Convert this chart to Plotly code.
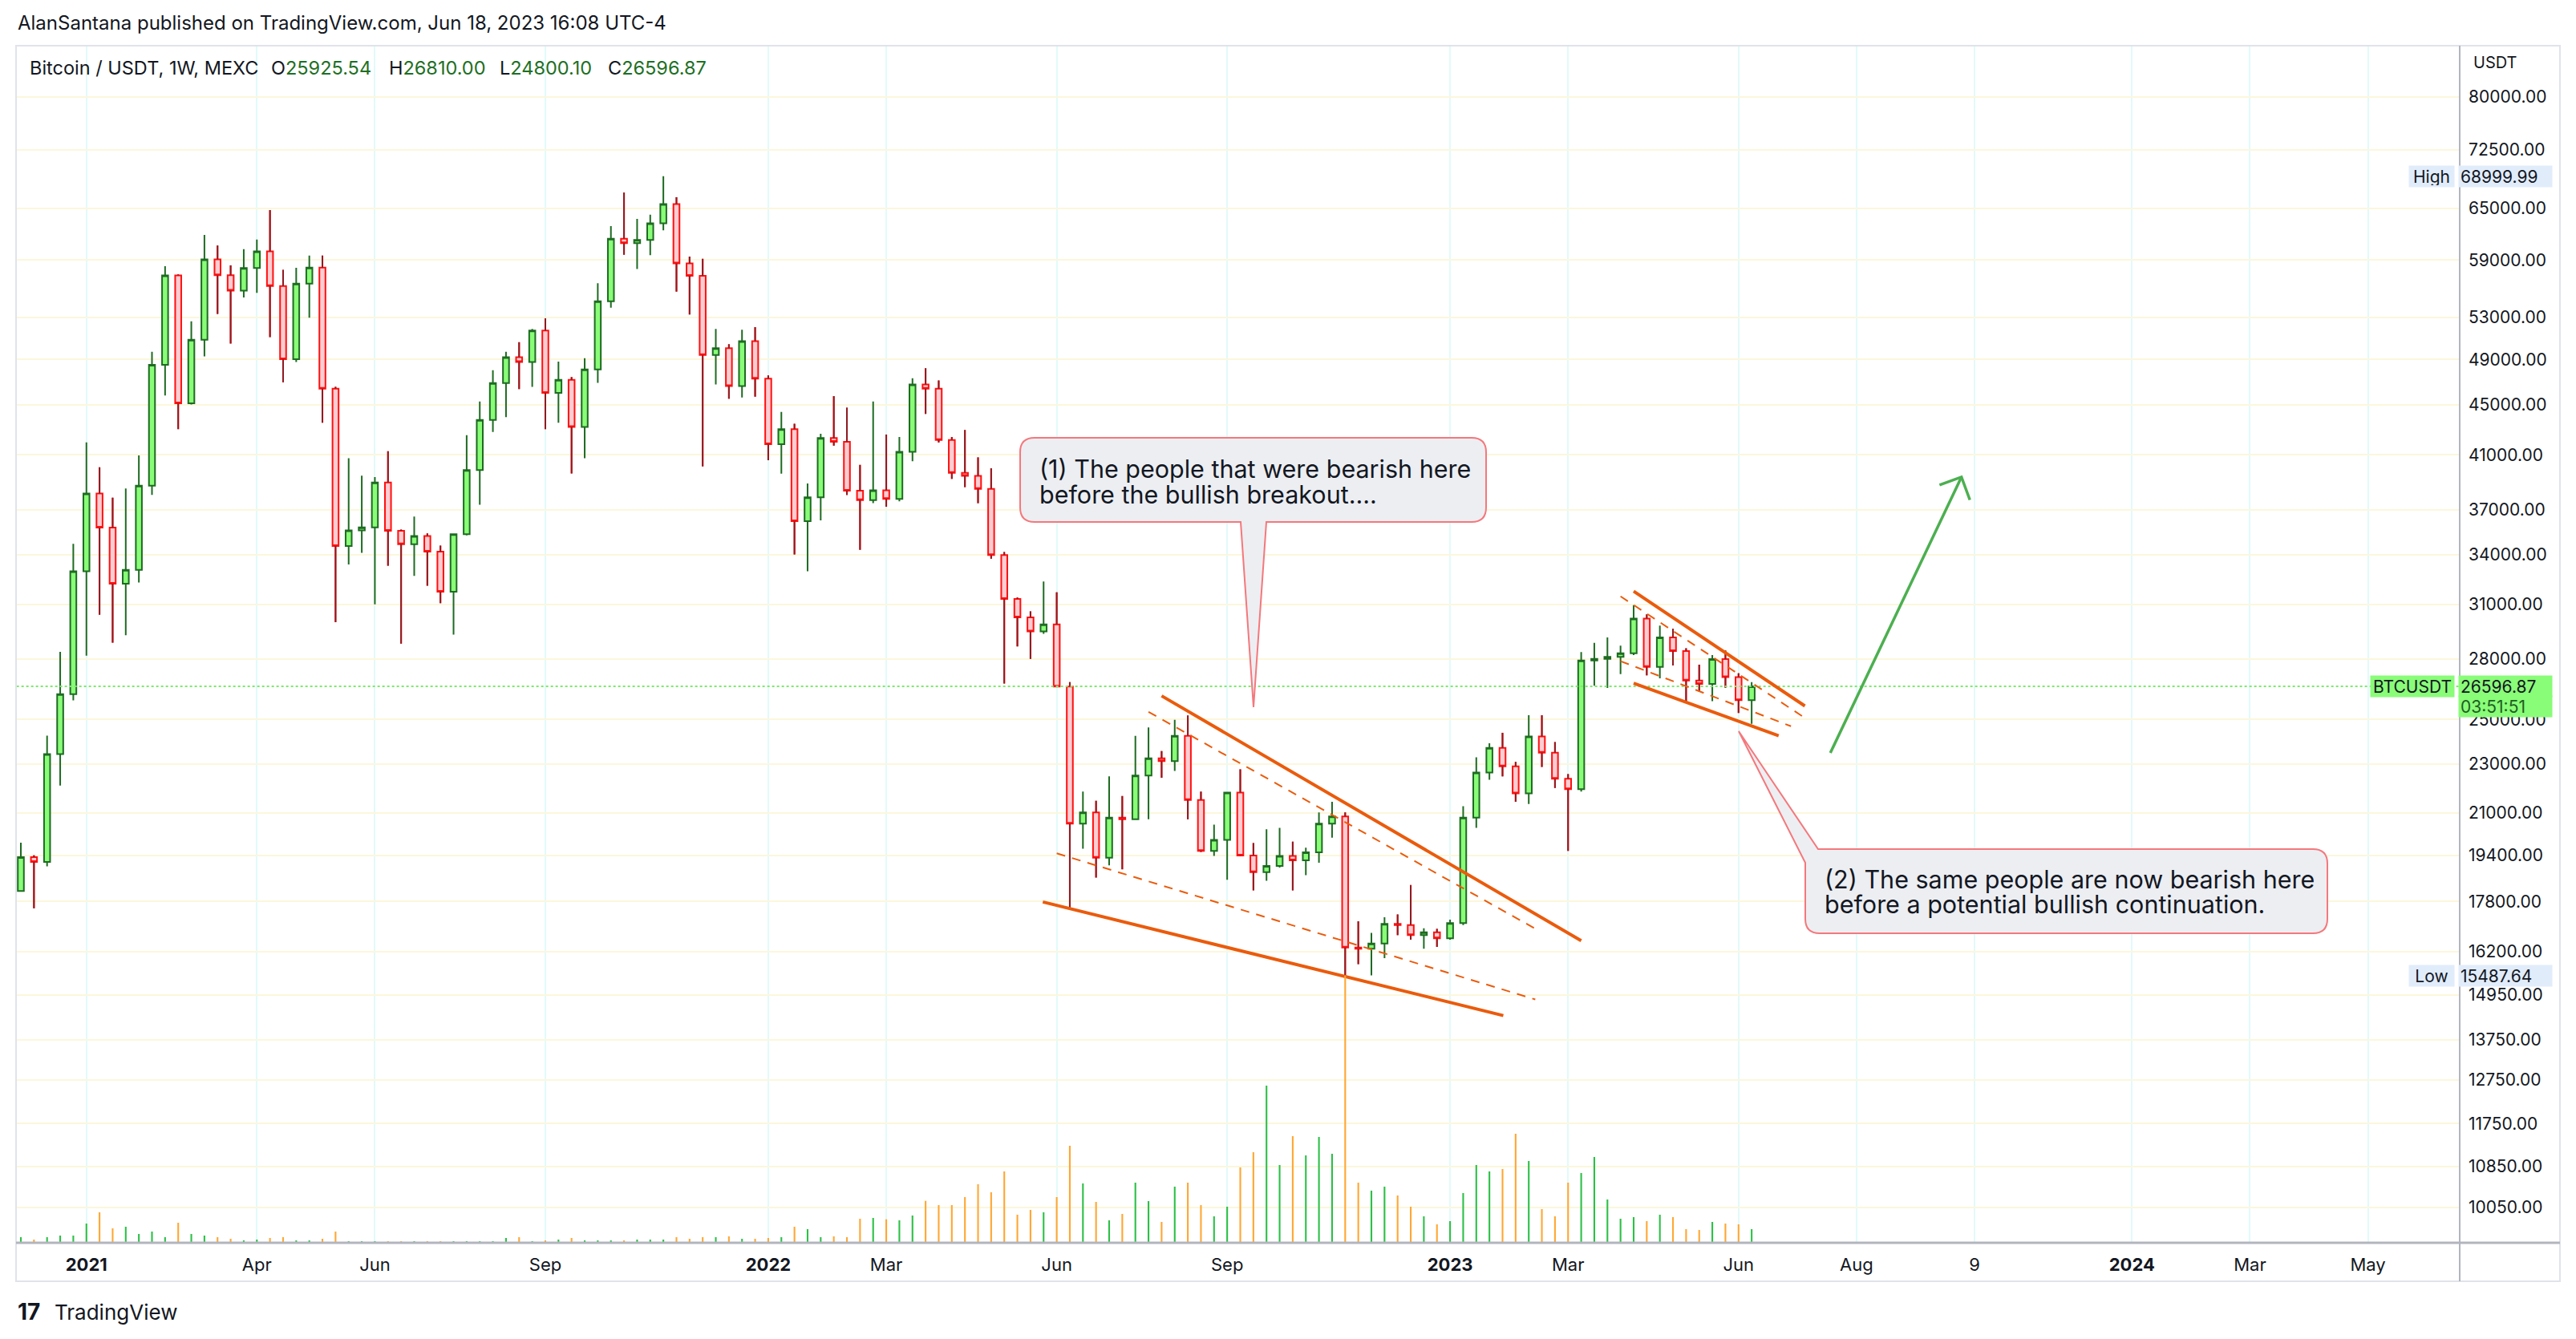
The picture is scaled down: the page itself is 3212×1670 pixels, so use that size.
import math
import pandas as pd
import plotly.graph_objects as go

# ---------------- data ----------------
first_week = "2020-11-30"

opens = [18150, 19330, 19160, 23440, 26210, 32980, 38130, 35780, 32220, 33060,
         38690, 48500, 57320, 45130, 50820, 59070, 57330, 55710, 58110, 59940,
         56190, 49010, 56440, 58150, 46390, 34570, 35600, 35800, 38930, 35570,
         34690, 35230, 34210, 31740, 35350, 39840, 43750, 46870, 49190, 48760,
         51700, 46030, 47150, 43190, 48090, 54620, 61390, 60870, 61240, 63170,
         65490, 58610, 57270, 49390, 50030, 46620, 50690, 47260, 41820, 43000,
         36210, 37870, 42300, 42010, 38340, 37670, 38360, 37750, 41230, 46750,
         46380, 42150, 39640, 39410, 38470, 33990, 31320, 30260, 29470, 29860,
         26590, 20580, 21020, 19310, 20810, 20750, 22520, 23250, 23130, 24250,
         21510, 19560, 19970, 21810, 19390, 18800, 19020, 19380, 19220, 19510,
         20580, 20860, 16330, 16290, 16450, 17070, 17030, 16710, 16800, 16610,
         17090, 20810, 22640, 23710, 22910, 21780, 24220, 23500, 22380, 21950,
         27920, 28000, 28100, 28300, 30190, 27580, 29150, 28410, 26890, 26720,
         27990, 27060, 25925.54]

highs = [19860, 19400, 24260, 28370, 34720, 41950, 40050, 37840, 38500, 40950,
         49690, 58310, 57430, 52600, 61820, 60610, 58410, 60190, 61300, 64760,
         57910, 58140, 59480, 59480, 46550, 40740, 39430, 39330, 41270, 35650,
         36530, 35400, 34600, 35400, 42530, 45290, 48010, 49690, 50590, 51870,
         52910, 48800, 47400, 49100, 56490, 62840, 66910, 63710, 64210, 68999.99,
         66340, 59370, 59120, 51870, 50400, 51790, 52040, 47550, 44410, 43440,
         38850, 42630, 45740, 44770, 40230, 45280, 42580, 42380, 47300, 48190,
         47100, 42380, 42940, 40800, 39980, 34190, 31400, 30600, 32350, 31710,
         26810, 21850, 21480, 22480, 21670, 24250, 24630, 23570, 24990, 25190,
         21850, 20540, 21810, 22780, 19850, 20370, 20420, 19900, 19680, 21020,
         21440, 21020, 17150, 16780, 17280, 17370, 18350, 16930, 16910, 17200,
         21260, 23300, 23920, 24390, 23100, 25200, 25200, 23970, 22580, 28360,
         28850, 29150, 28700, 30960, 30430, 29800, 29620, 28560, 27700, 28200,
         28440, 27260, 26810.00]

lows = [18130, 17570, 19000, 22100, 25910, 28170, 30410, 28860, 29260, 32290,
        38030, 45800, 43010, 45030, 49270, 53330, 50470, 55000, 55470, 51080,
        46950, 48760, 52960, 43530, 29990, 33400, 34130, 31000, 33320, 28810,
        32690, 32100, 31070, 29300, 35260, 37350, 42780, 43990, 46350, 46550,
        43010, 43530, 39590, 40740, 46900, 53970, 59580, 58010, 59530, 62350,
        55610, 53280, 40120, 46750, 45520, 45630, 45700, 40580, 39580, 34030,
        32980, 36270, 41700, 38030, 34330, 37450, 37200, 37580, 40500, 44250,
        41950, 39190, 38590, 37450, 33760, 26740, 28660, 28000, 29340, 26560,
        17590, 19640, 18610, 19040, 18900, 20750, 20750, 22420, 22710, 20750,
        19520, 19380, 18530, 19370, 18170, 18500, 18960, 18170, 18690, 19130,
        20050, 15487.64, 15830, 15500, 16010, 16710, 16570, 16290, 16350, 16570,
        17030, 20420, 22340, 22480, 21440, 21350, 22880, 22000, 19560, 21850,
        26630, 26520, 27210, 28200, 27150, 27000, 27660, 25780, 26350, 25870,
        26530, 25310, 24800.10]

closes = [19330, 19160, 23440, 26210, 32980, 38130, 35780, 32220, 33060, 38690,
          48500, 57320, 45130, 50820, 59070, 57330, 55710, 58110, 59940, 56190,
          49010, 56440, 58150, 46390, 34570, 35600, 35800, 38930, 35570, 34690,
          35230, 34210, 31740, 35350, 39840, 43750, 46870, 49190, 48760, 51700,
          46030, 47150, 43190, 48090, 54620, 61390, 60870, 61240, 63170, 65490,
          58610, 57270, 49390, 50030, 46620, 50690, 47260, 41820, 43000, 36210,
          37870, 42300, 42010, 38340, 37670, 38360, 37750, 41230, 46750, 46380,
          42150, 39640, 39410, 38470, 33990, 31320, 30260, 29470, 29860, 26590,
          20580, 21020, 19310, 20810, 20750, 22520, 23250, 23130, 24250, 21510,
          19560, 19970, 21810, 19390, 18800, 19020, 19380, 19220, 19510, 20580,
          20860, 16330, 16290, 16450, 17070, 17030, 16710, 16800, 16610, 17090,
          20810, 22640, 23710, 22910, 21780, 24220, 23500, 22380, 21950, 27920,
          28000, 28100, 28300, 30190, 27580, 29150, 28410, 26890, 26720, 27990,
          27060, 25925.54, 26596.87]

volumes = [21, 12, 21, 27, 27, 72, 114, 54, 60, 33,
           42, 21, 75, 33, 27, 21, 15, 9, 12, 18,
           21, 9, 9, 15, 42, 6, 6, 6, 6, 6,
           6, 6, 6, 6, 6, 6, 6, 18, 21, 6,
           9, 12, 18, 9, 9, 9, 9, 12, 12, 12,
           21, 15, 21, 21, 24, 15, 15, 18, 21, 60,
           51, 21, 24, 21, 90, 93, 88, 84, 102, 157,
           141, 141, 171, 219, 189, 267, 105, 123, 114, 171,
           363, 222, 153, 84, 108, 225, 156, 78, 210, 225,
           141, 99, 135, 282, 339, 588, 291, 399, 327, 396,
           333, 1000, 225, 195, 210, 177, 135, 99, 69, 81,
           186, 291, 267, 276, 408, 306, 126, 99, 225, 261,
           321, 162, 90, 96, 81, 105, 96, 51, 48, 78,
           72, 69, 51]

weeks = pd.date_range(first_week, periods=len(closes), freq="7D")

x_tick_dates = ["2021-01-04", "2021-04-05", "2021-06-07", "2021-09-06",
                "2022-01-03", "2022-03-07", "2022-06-06", "2022-09-05",
                "2023-01-02", "2023-03-06", "2023-06-05", "2023-08-07",
                "2023-10-09", "2024-01-01", "2024-03-04", "2024-05-06"]
x_tick_labels = ["<b>2021</b>", "Apr", "Jun", "Sep", "<b>2022</b>", "Mar", "Jun", "Sep",
                 "<b>2023</b>", "Mar", "Jun", "Aug", "9", "<b>2024</b>", "Mar", "May"]

price_ticks = [80000, 72500, 65000, 59000, 53000, 49000, 45000, 41000, 37000, 34000,
               31000, 28000, 25000, 23000, 21000, 19400, 17800, 16200, 14950, 13750,
               12750, 11750, 10850, 10050]
price_tick_labels = [f"{v:.2f}" for v in price_ticks]

last_price = 26596.87
all_high = 68999.99
all_low = 15487.64

# drawn trend lines (date, price)
wedge1_upper = (["2022-08-01", "2023-03-13"], [26130, 16540])
wedge1_upper_dash = (["2022-07-25", "2023-02-19"], [25360, 16830])
wedge1_lower_dash = (["2022-06-06", "2023-02-16 12:00"], [19470, 14820])
wedge1_lower = (["2022-05-29 14:00", "2023-01-30 10:00"], [17780, 14380])
wedge2_upper = (["2023-04-10", "2023-07-10 10:00"], [31770, 25640])
wedge2_upper_dash = (["2023-04-03", "2023-07-10"], [31470, 25100])
wedge2_lower_dash = (["2023-04-03", "2023-07-03"], [27880, 24690])
wedge2_lower = (["2023-04-10", "2023-06-26 10:00"], [26750, 24250])
arrow_shaft = (["2023-07-24", "2023-10-02"], [23490, 39330])
arrow_head = (["2023-09-20 07:00", "2023-10-02", "2023-10-06 12:00"], [38750, 39330, 37680])

callout1_lines = ["(1) The people that were bearish here", "before the bullish breakout...."]
callout2_lines = ["(2) The same people are now bearish here", "before a potential bullish continuation."]

# ---------------- style / layout ----------------
# page positions (the page body adds an 8px margin, compensated below)
OFF = 8
W, H = 3212 - 2 * OFF, 1670 - 2 * OFF
PL, PR, PT, PB = 20, 3067, 58, 1550
FONT = "Inter"
TXT = "#131722"
UP_FILL, UP_LINE = "#89FC78", "#1E6B22"
DN_FILL, DN_LINE, DN_WICK = "#FFCDD2", "#FF1010", "#8E1B22"
VOL_UP, VOL_DN = "#2CC047", "#FFA733"
TREND = "#EA5B0C"
ARROW = "#4CAF50"
GRID_H = "#FCF7DC"
GRID_V = "#E2FAFA"


def pxx(px):
    return (px - PL) / (PR - PL)


def pxy(py):
    return (PB - py) / (PB - PT)


y_lo = math.log10(9406)
y_hi = math.log10(87903)

fig = go.Figure()

# volume
fig.add_trace(go.Bar(
    x=weeks, y=volumes, yaxis="y2",
    marker=dict(color=[VOL_UP if c >= o else VOL_DN for o, c in zip(opens, closes)], line=dict(width=0)),
    width=0.9 * 86400000, showlegend=False, hoverinfo="skip"))

# candles
fig.add_trace(go.Candlestick(
    x=weeks, open=opens, high=highs, low=lows, close=closes,
    increasing=dict(line=dict(color=UP_LINE, width=2), fillcolor=UP_FILL),
    decreasing=dict(line=dict(color=DN_LINE, width=2), fillcolor=DN_FILL),
    whiskerwidth=0, showlegend=False))

# darker wicks for down candles
wx, wy = [], []
for d, o, h, l, c in zip(weeks, opens, highs, lows, closes):
    if c < o:
        wx += [d, d, None, d, d, None]
        wy += [h, o, None, c, l, None]
fig.add_trace(go.Scatter(x=wx, y=wy, mode="lines", line=dict(color=DN_WICK, width=2),
                         showlegend=False, hoverinfo="skip"))

# current price dotted line
fig.add_trace(go.Scatter(x=["2020-11-20", "2024-07-01"], y=[last_price, last_price], mode="lines",
                         line=dict(color="#7EEA6E", width=2, dash="dot"), showlegend=False, hoverinfo="skip"))

for seg, dash, wdt in [(wedge1_upper, "solid", 4), (wedge1_lower, "solid", 4),
                       (wedge1_upper_dash, "11px,9px", 2), (wedge1_lower_dash, "11px,9px", 2),
                       (wedge2_upper, "solid", 4), (wedge2_lower, "solid", 4),
                       (wedge2_upper_dash, "11px,9px", 2), (wedge2_lower_dash, "11px,9px", 2)]:
    fig.add_trace(go.Scatter(x=seg[0], y=seg[1], mode="lines",
                             line=dict(color=TREND, width=wdt, dash=dash),
                             showlegend=False, hoverinfo="skip"))

for seg in [arrow_shaft, arrow_head]:
    fig.add_trace(go.Scatter(x=seg[0], y=seg[1], mode="lines",
                             line=dict(color=ARROW, width=3.5), showlegend=False, hoverinfo="skip"))

shapes = []

callout1_box = (1272, 546, 1853, 651)
callout1_tail = (1547, 1579, 1563, 882)
callout2_box = (2251, 1059, 2902, 1164)
callout2_tail = (2267, 1076, 2168, 912)


def rr_path(L, T, R, B, r, tail):
    X, Y = pxx, pxy
    if tail == "bottom":
        bl, br, tx, ty = callout1_tail
        return (f"M{X(L + r)},{Y(T)} L{X(R - r)},{Y(T)} Q{X(R)},{Y(T)} {X(R)},{Y(T + r)} "
                f"L{X(R)},{Y(B - r)} Q{X(R)},{Y(B)} {X(R - r)},{Y(B)} "
                f"L{X(br)},{Y(B)} L{X(tx)},{Y(ty)} L{X(bl)},{Y(B)} "
                f"L{X(L + r)},{Y(B)} Q{X(L)},{Y(B)} {X(L)},{Y(B - r)} "
                f"L{X(L)},{Y(T + r)} Q{X(L)},{Y(T)} {X(L + r)},{Y(T)} Z")
    topx, lefty, tx, ty = callout2_tail
    return (f"M{X(topx)},{Y(T)} L{X(R - r)},{Y(T)} Q{X(R)},{Y(T)} {X(R)},{Y(T + r)} "
            f"L{X(R)},{Y(B - r)} Q{X(R)},{Y(B)} {X(R - r)},{Y(B)} "
            f"L{X(L + r)},{Y(B)} Q{X(L)},{Y(B)} {X(L)},{Y(B - r)} "
            f"L{X(L)},{Y(lefty)} L{X(tx)},{Y(ty)} Z")


for box, tail in [(callout1_box, "bottom"), (callout2_box, "topleft")]:
    shapes.append(dict(type="path", xref="paper", yref="paper", path=rr_path(*box, 18, tail),
                       fillcolor="#ECEEF2", line=dict(color="#F4787C", width=2), layer="above"))

# pane frame and separators
shapes.append(dict(type="rect", xref="paper", yref="paper", x0=pxx(20), x1=pxx(3192), y0=pxy(57), y1=pxy(1598),
                   line=dict(color="#E0E3EB", width=2), fillcolor="rgba(0,0,0,0)", layer="above"))
shapes.append(dict(type="line", xref="paper", yref="paper", x0=pxx(3067), x1=pxx(3067), y0=pxy(57), y1=pxy(1598),
                   line=dict(color="#B2B5BE", width=2), layer="above"))
shapes.append(dict(type="line", xref="paper", yref="paper", x0=pxx(20), x1=pxx(3192), y0=pxy(1550), y1=pxy(1550),
                   line=dict(color="#B2B5BE", width=3), layer="above"))

ann = []


def txt(px, py, text, size=22, color=TXT, anchor="left", **kw):
    d = dict(xref="paper", yref="paper", x=pxx(px), y=pxy(py), text=text, showarrow=False,
             xanchor=anchor, yanchor="middle", font=dict(family=FONT, size=size, color=color))
    d.update(kw)
    ann.append(d)


txt(20, 29, "AlanSantana published on TradingView.com, Jun 18, 2023 16:08 UTC-4", 24)
VAL = "#1E6F24"
HDR = 23.5
txt(35, 84, "Bitcoin / USDT, 1W, MEXC", HDR)
txt(336, 84, f"O<span style='color:{VAL}'>{opens[-1]:.2f}</span>", HDR)
txt(483, 84, f"H<span style='color:{VAL}'>{highs[-1]:.2f}</span>", HDR)
txt(621, 84, f"L<span style='color:{VAL}'>{lows[-1]:.2f}</span>", HDR)
txt(756, 84, f"C<span style='color:{VAL}'>{closes[-1]:.2f}</span>", HDR)
txt(3111, 78, "USDT", 20, anchor="center")

CALL = 30.5
txt(1294, 584, callout1_lines[0], CALL)
txt(1294, 616, callout1_lines[1], CALL)
txt(2273, 1096, callout2_lines[0], CALL)
txt(2273, 1128, callout2_lines[1], CALL)

# TradingView logo
txt(20, 1636, "<b>17</b>", 28, anchor="left")
txt(66, 1636, "TradingView", 26, anchor="left")


def axis_label(value, text, side, bg, fg=TXT, width=112, yshift=0):
    ann.append(dict(xref="paper", yref="y", x=1.0, y=math.log10(value), text=text, showarrow=False,
                    xanchor="left" if side == "right" else "right", yanchor="middle",
                    xshift=-2 if side == "right" else -6, yshift=yshift,
                    width=width, height=22, align="left" if side == "right" else "center",
                    bgcolor=bg, borderpad=2, font=dict(family=FONT, size=21, color=fg)))


axis_label(all_high, f"{all_high:.2f}", "right", "#E1ECFB")
axis_label(all_high, "High", "left", "#E1ECFB", width=52)
axis_label(all_low, f"{all_low:.2f}", "right", "#E1ECFB")
axis_label(all_low, "Low", "left", "#E1ECFB", width=52)
axis_label(last_price, f"{last_price:.2f}", "right", "#89FC78")
axis_label(last_price, "03:51:51", "right", "#89FC78", fg="#1E5E22", yshift=-25)
axis_label(last_price, "BTCUSDT", "left", "#89FC78", width=100)

fig.update_layout(
    width=W, height=H, autosize=False,
    margin=dict(l=PL - OFF, r=W - (PR - OFF), t=PT - OFF, b=H - (PB - OFF), pad=0),
    paper_bgcolor="white", plot_bgcolor="white",
    showlegend=False, boxgap=0.34,
    shapes=shapes, annotations=ann,
    xaxis=dict(type="date", range=["2020-11-27 10:19", "2024-06-24"],
               tickvals=x_tick_dates, ticktext=x_tick_labels,
               showgrid=True, gridcolor=GRID_V, gridwidth=2, zeroline=False, showline=False,
               ticks="", ticklabelstandoff=12, rangeslider=dict(visible=False),
               tickfont=dict(family=FONT, size=22, color=TXT)),
    yaxis=dict(type="log", range=[y_lo, y_hi], side="right",
               tickvals=price_ticks, ticktext=price_tick_labels,
               showgrid=True, gridcolor=GRID_H, gridwidth=2, zeroline=False, showline=False,
               ticks="", ticklabelstandoff=10,
               tickfont=dict(family=FONT, size=21, color=TXT)),
    yaxis2=dict(overlaying="y", range=[0, (PB - PT) * 3], visible=False, showgrid=False),
)

fig.write_html("out.html")
